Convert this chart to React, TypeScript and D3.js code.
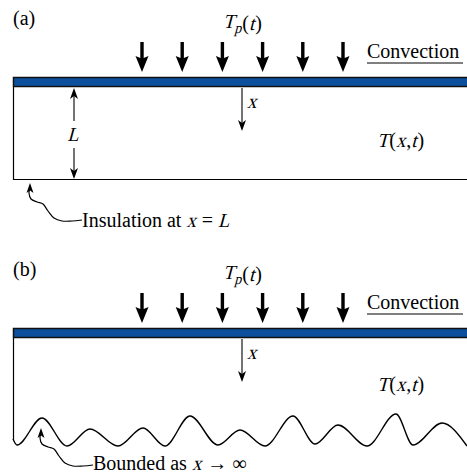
import React from "react";
import * as d3 from "d3";

const W = 467;
const H = 475;

// heat flux arrows (index along the surface)
const fluxArrows = [0, 1, 2, 3, 4, 5];
// wavy "bounded" bottom profile for panel (b): [x, y]
const waveProfile: [number, number][] = [
  [13, 439], [17, 445], [42, 418], [67, 446], [90, 429], [118, 446],
  [143, 428], [165, 446], [190, 416], [218, 445], [240, 430], [265, 446],
  [293, 416], [315, 444], [338, 425], [367, 446], [396, 414], [413, 445],
  [442, 423], [467, 446],
];
// squiggle (relative offsets from the arrow tip)
const squiggle: [number, number][] = [
  [0, 3], [-1, 10], [1, 16], [7, 19], [13, 21], [18, 28], [24, 35], [32, 38], [42, 38], [52, 37],
];

type Seg = { t: string; it?: boolean; size?: number; dy?: number };
const tpLabel: Seg[] = [{ t: "T", it: true }, { t: "p", it: true, size: 15, dy: 5 }, { t: "(", dy: 2 }, { t: "t", it: true, dy: 2 }, { t: ")", dy: 2 }];
const tLabel: Seg[] = [{ t: "T", it: true }, { t: "(" }, { t: "x", it: true }, { t: "," }, { t: "t", it: true }, { t: ")" }];
const xLabel: Seg[] = [{ t: "x", it: true }];
const lLabel: Seg[] = [{ t: "L", it: true }];
const insLabel: Seg[] = [{ t: "Insulation at " }, { t: "x", it: true }, { t: " = " }, { t: "L", it: true }];
const bndLabel: Seg[] = [{ t: "Bounded as " }, { t: "x", it: true }, { t: " → ∞" }];

const panels = [
  { label: "(a)", off: 0, tLabelY: 147, bottom: "insulated" },
  { label: "(b)", off: 251, tLabelY: 391 - 251, bottom: "wavy" },
];

const FONT = "Liberation Serif";
const font = "Liberation Serif, Times New Roman, serif";
const blue = "#0c4f9c";
const BASE = 20;

const arrowX = d3.scaleLinear().domain([0, 5]).range([142, 343]);

let ctx: CanvasRenderingContext2D | null = null;
function measure(t: string, size: number) {
  if (!ctx && typeof document !== "undefined") ctx = document.createElement("canvas").getContext("2d");
  if (!ctx) return t.length * size * 0.5;
  ctx.font = `${size}px "${FONT}"`;
  return ctx.measureText(t).width;
}

function Rich({ x, y, segs, anchor = "start" }: { x: number; y: number; segs: Seg[]; anchor?: string }) {
  const items: { seg: Seg; x: number; w: number }[] = [];
  let cx = 0;
  segs.forEach((s, i) => {
    const size = s.size || BASE;
    let w = measure(s.t, size);
    if (s.it) w *= 0.93;
    items.push({ seg: s, x: cx, w });
    cx += w;
    if (s.it && i < segs.length - 1 && !segs[i + 1].it) cx += 1;
  });
  const x0 = anchor === "middle" ? x - cx / 2 : x;
  return (
    <g>
      {items.map(({ seg, x: sx }, i) => {
        const px = x0 + sx;
        const py = y + (seg.dy || 0);
        const size = seg.size || BASE;
        return seg.it ? (
          <text key={i} transform={`translate(${px},${py}) skewX(-15) scale(0.93,1)`} style={{ fontFamily: font, whiteSpace: "pre" }} fontSize={size}>
            {seg.t}
          </text>
        ) : (
          <text key={i} x={px} y={py} style={{ fontFamily: font, whiteSpace: "pre" }} fontSize={size}>
            {seg.t}
          </text>
        );
      })}
    </g>
  );
}

function fluxArrowPath(cx: number, top: number, tip: number) {
  const hw = 6.5;
  const hs = tip - 15;
  const sw = 1.7;
  return `M${cx - sw},${top}L${cx + sw},${top}L${cx + sw},${hs + 1}L${cx + hw},${hs - 1}L${cx},${tip}L${cx - hw},${hs - 1}L${cx - sw},${hs + 1}Z`;
}

function thinHead(x: number, y: number, dir: number) {
  const len = 11;
  const hw = 4;
  const b = y - dir * len;
  const n = y - dir * (len - 3);
  return `M${x},${y}L${x + hw},${b}L${x},${n}L${x - hw},${b}Z`;
}

function Squiggle({ tx, ty }: { tx: number; ty: number }) {
  const line = d3.line<[number, number]>().x((d) => tx + d[0]).y((d) => ty + d[1]).curve(d3.curveCatmullRom);
  return (
    <g>
      <path d={line(squiggle) || ""} fill="none" stroke="#000" strokeWidth={1.2} />
      <path d={`M${tx},${ty}L${tx + 3.5},${ty + 10}L${tx},${ty + 7.5}L${tx - 3.5},${ty + 10}Z`} fill="#000" />
    </g>
  );
}

function Panel({ p }: { p: (typeof panels)[number] }) {
  const o = p.off;
  const barTop = 77 + o;
  const barBot = 87 + o;
  const waveLine = d3.line<[number, number]>().x((d) => d[0]).y((d) => d[1]).curve(d3.curveMonotoneX);
  const ts = { fontFamily: font };
  return (
    <g>
      <text x={13} y={25 + o} style={ts} fontSize={BASE}>{p.label}</text>
      <Rich x={223} y={28 + o} segs={tpLabel} />
      {fluxArrows.map((i) => (
        <path key={i} d={fluxArrowPath(arrowX(i), 42 + o, 72 + o)} fill="#000" />
      ))}
      <text x={367} y={58 + o} style={ts} fontSize={BASE}>Convection</text>
      <line x1={367} x2={463} y1={63 + o} y2={63 + o} stroke="#000" strokeWidth={1} />
      {p.bottom === "insulated" ? (
        <path d={`M13.5,${barBot}L13.5,${179.5 + o}L${W},${179.5 + o}`} fill="none" stroke="#000" strokeWidth={1.2} />
      ) : (
        <g>
          <line x1={13.5} x2={13.5} y1={barBot} y2={440} stroke="#000" strokeWidth={1.2} />
          <path d={waveLine(waveProfile) || ""} fill="none" stroke="#000" strokeWidth={1.4} />
        </g>
      )}
      <rect x={13.5} y={barTop + 0.5} width={W} height={barBot - barTop - 1} fill={blue} stroke="#111" strokeWidth={1.5} />
      <line x1={242} x2={242} y1={barBot + 1} y2={124 + o} stroke="#000" strokeWidth={1.1} />
      <path d={thinHead(242, 131 + o, 1)} fill="#000" />
      <Rich x={247} y={108 + o} segs={xLabel} />
      <Rich x={377} y={p.tLabelY + o} segs={tLabel} />
      {p.bottom === "insulated" ? (
        <g>
          <line x1={74} x2={74} y1={95} y2={121} stroke="#000" strokeWidth={1.1} />
          <path d={thinHead(74, 88, -1)} fill="#000" />
          <line x1={74} x2={74} y1={148} y2={172} stroke="#000" strokeWidth={1.1} />
          <path d={thinHead(74, 179, 1)} fill="#000" />
          <Rich x={73} y={141} segs={lLabel} anchor="middle" />
          <Squiggle tx={30} ty={183} />
          <Rich x={82} y={227} segs={insLabel} />
        </g>
      ) : (
        <g>
          <Squiggle tx={41} ty={428} />
          <Rich x={93} y={470} segs={bndLabel} />
        </g>
      )}
    </g>
  );
}

export default function App() {
  return (
    <svg width={W} height={H} viewBox={`0 0 ${W} ${H}`} style={{ position: "absolute", left: 0, top: 0, background: "#fff" }}>
      <rect width={W} height={H} fill="#fff" />
      {panels.map((p) => (
        <Panel key={p.label} p={p} />
      ))}
    </svg>
  );
}
